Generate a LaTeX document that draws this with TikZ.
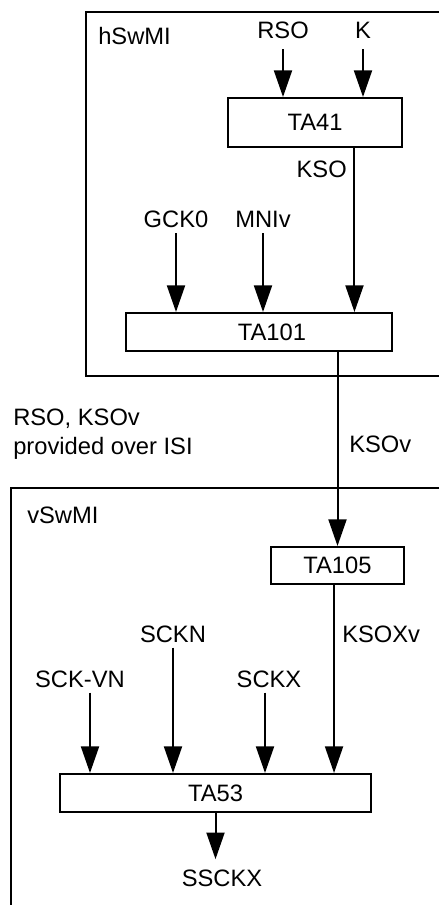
\documentclass[tikz,border=0pt]{standalone}
\usepackage{fontspec}
\setmainfont{Liberation Sans}
\usetikzlibrary{arrows.meta, positioning}

\begin{document}
\begin{tikzpicture}[
  x=0.75pt, y=-0.75pt,
  every node/.style={font=\fontsize{17.8pt}{21.75pt}\selectfont},
  box/.style={rectangle, draw=black, line width=1.5pt, fill=white,
              inner sep=0pt, minimum height=28.5pt},
  lbl/.style={inner xsep=0pt, inner ysep=3.75pt},
  frame/.style={line width=1.1pt},
  arr/.style={-{Triangle[length=20pt, width=13.5pt]}, line width=1.5pt}
]
\useasboundingbox (0,0) rectangle (439,905);

% --- Domain frames ---
\draw[frame] (439,12) -| (86,376) -- (439,376);
\draw[frame] (439,488) -| (11,905);
\node[lbl, anchor=base west] (hswmi) at (98,45)  {hSwMI};
\node[lbl, anchor=base west] (vswmi) at (27,523) {vSwMI};

% --- hSwMI functions ---
\node[box, minimum width=130.5pt, minimum height=36.75pt] (ta41) at (315,122.5) {TA41};
\node[box, minimum width=199.5pt] (ta101) at (259,332) {\hspace*{19.5pt}TA101};

\node[lbl, anchor=base] (rso) at (283,39)  {RSO};
\node[lbl, anchor=base] (k)   at (363,39)  {K};
\node[lbl, anchor=base] (gck) at (176,228) {GCK0};
\node[lbl, anchor=base] (mni) at (263,228) {MNIv};
\node[lbl, anchor=base east] (kso) at (347,178) {KSO};

% --- ISI note ---
\node[anchor=north west, align=left, inner sep=0pt] (isi) at (13,409)
  {RSO, KSOv\\provided over ISI};
\node[lbl, anchor=base west] (ksov) at (349,452) {KSOv};

% --- vSwMI functions ---
\node[box, minimum width=99.75pt, minimum height=27.75pt] (ta105) at (337.5,565.5) {TA105};
\node[box, minimum width=233.25pt] (ta53) at (215.5,793) {TA53};

\node[lbl, anchor=base] (sckn)  at (173,642) {SCKN};
\node[lbl, anchor=base] (sckvn) at (80,687)  {SCK-VN};
\node[lbl, anchor=base] (sckx)  at (269,687) {SCKX};
\node[lbl, anchor=base west] (ksoxv) at (342,642) {KSOXv};
\node[lbl, anchor=base] (ssckx) at (222,886) {SSCKX};

% --- Arrows ---
\coordinate (ksoout) at ([xshift=29.6pt]ta41.south);
\coordinate (ksoxout) at ([xshift=-2.6pt]ta105.south);
\coordinate (vnin) at ([xshift=7.5pt]sckvn.south);
\coordinate (xin) at ([xshift=-3pt]sckx.south);

\draw[arr, shorten <=3.75pt] (rso.south) -- (rso.south |- ta41.north);
\draw[arr, shorten <=3.75pt] (k.south)   -- (k.south |- ta41.north);
\draw[arr] (gck.south) -- (gck.south |- ta101.north);
\draw[arr] (mni.south) -- (mni.south |- ta101.north);
\draw[arr] (ksoout)    -- (ksoout |- ta101.north);
\draw[arr] (ta101.south -| ta105.north) -- (ta105.north);
\draw[arr] (vnin)       -- (vnin |- ta53.north);
\draw[arr] (sckn.south) -- (sckn.south |- ta53.north);
\draw[arr] (xin)        -- (xin |- ta53.north);
\draw[arr] (ksoxout)    -- (ksoxout |- ta53.north);
\draw[arr, shorten >=3.75pt] (ta53.south) -- (ta53.south |- ssckx.north);

\end{tikzpicture}
\end{document}
